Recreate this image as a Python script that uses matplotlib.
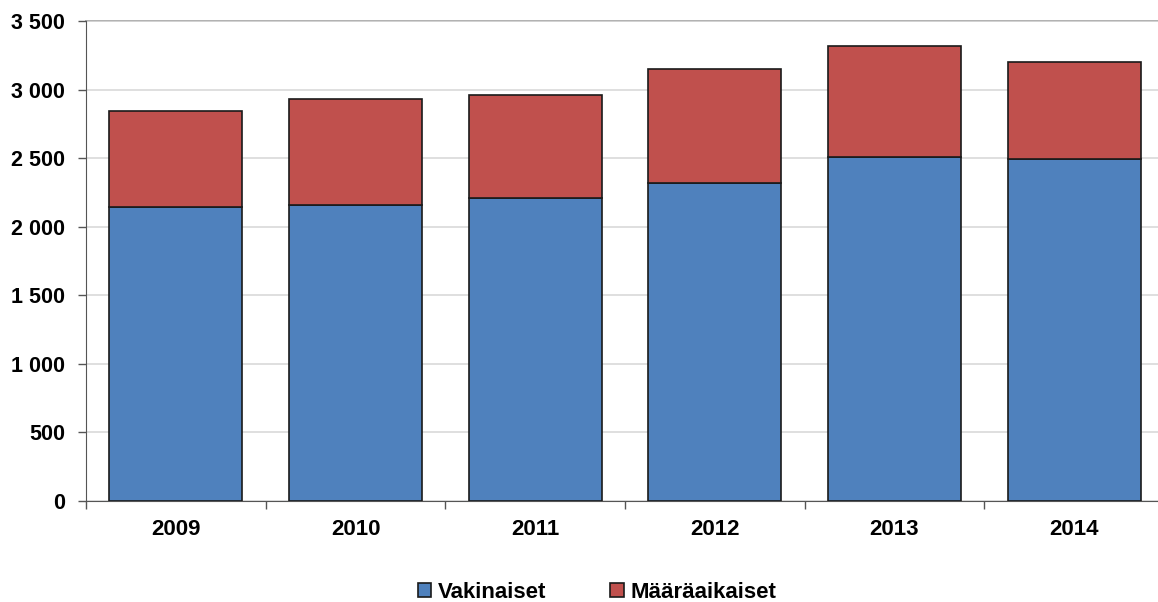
import matplotlib
matplotlib.use("Agg")
import matplotlib.pyplot as plt
from matplotlib.ticker import FuncFormatter, FixedLocator
import numpy as np

years = ["2009", "2010", "2011", "2012", "2013", "2014"]
vakinaiset = [2147, 2155, 2211, 2318, 2506, 2493]
maaraaikaiset = [695, 775, 750, 833, 810, 708]
series_names = ["Vakinaiset", "Määräaikaiset"]
colors = ["#4f81bd", "#c0504d"]

plt.rcParams['font.family'] = ['Liberation Sans', 'DejaVu Sans']
plt.rcParams['font.weight'] = 'bold'

fig = plt.figure(figsize=(11.58, 6.02), dpi=100)
ax = fig.add_axes([86/1158, 1-501/602, 1078/1158, 480/602])

x = np.arange(len(years))
b1 = ax.bar(x, vakinaiset, width=0.74, color=colors[0], edgecolor="#1a1a1a",
            linewidth=1.2, label=series_names[0], zorder=3)
b2 = ax.bar(x, maaraaikaiset, bottom=vakinaiset, width=0.74, color=colors[1],
            edgecolor="#1a1a1a", linewidth=1.2, label=series_names[1], zorder=3)

ax.set_xlim(-0.5, len(years) - 0.5)
ax.set_ylim(0, 3500)
ax.set_yticks(np.arange(0, 3501, 500))
ax.yaxis.set_major_formatter(FuncFormatter(lambda v, p: f"{int(v):,}".replace(",", " ")))
ax.set_xticks(x)
ax.set_xticklabels(years)
ax.xaxis.set_minor_locator(FixedLocator(np.arange(-0.5, len(years), 1.0)))
ax.tick_params(axis='x', which='major', length=0, pad=13, labelsize=16)
ax.tick_params(axis='x', which='minor', length=6, width=1, color='#555555')
ax.tick_params(axis='y', length=6, width=1, color='#555555', labelsize=15.5, pad=9)

ax.grid(axis='y', color='#d9d9d9', linewidth=1.2, zorder=0)
ax.axhline(3500, color='#b0b0b0', linewidth=1.4, zorder=1, clip_on=False)
for s in ['top', 'right']:
    ax.spines[s].set_visible(False)
ax.spines['left'].set_color('#555555')
ax.spines['bottom'].set_color('#555555')

leg = fig.legend(handles=[b1, b2], labels=series_names, loc='center',
                 bbox_to_anchor=(597/1158, 1-592/602), ncol=2, frameon=False,
                 fontsize=16, handlelength=0.6, handleheight=0.6,
                 handletextpad=0.3, columnspacing=2.9)

fig.savefig("out.png", dpi=100)
